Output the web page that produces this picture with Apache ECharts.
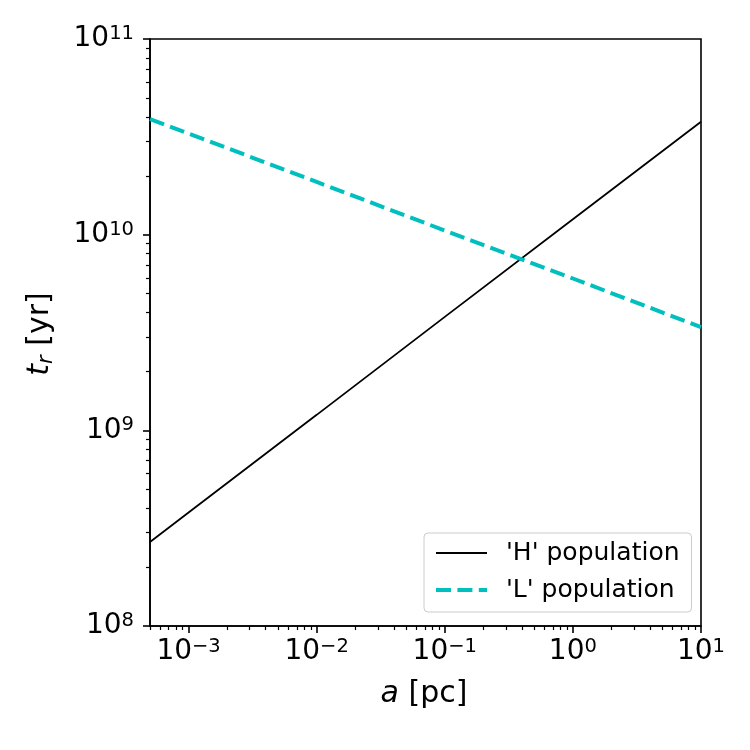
<!DOCTYPE html>
<html>
<head>
<meta charset="utf-8">
<script src="https://cdn.jsdelivr.net/npm/echarts@6/dist/echarts.min.js"></script>
<style>html,body{margin:0;padding:0;background:#fff}#c{width:750px;height:750px}</style>
</head>
<body>
<div id="c"></div>
<script>
// ---- data ----
var aValues = [5e-4, 1e-3, 1e-2, 1e-1, 1, 10];            // a [pc]
var hPopulation = [2.69e8, 3.80e8, 1.20e9, 3.80e9, 1.20e10, 3.78e10];   // 'H' population t_r [yr]
var lPopulation = [3.90e10, 3.29e10, 1.86e10, 1.05e10, 5.97e9, 3.37e9]; // 'L' population t_r [yr]
var seriesNames = ["'H' population", "'L' population"];
var xMajorTicks = [1e-3, 1e-2, 1e-1, 1, 10];
var yMajorTicks = [1e8, 1e9, 1e10, 1e11];
var xRange = [5e-4, 10];
var yRange = [1e8, 1e11];

function minorTicks(lo, hi) {
  var out = [];
  for (var e = Math.floor(Math.log10(lo)); e <= Math.ceil(Math.log10(hi)); e++) {
    for (var m = 2; m <= 9; m++) {
      var v = m * Math.pow(10, e);
      if (v >= lo * 0.999 && v <= hi * 1.001) out.push(v);
    }
  }
  return out;
}
var xMinorTicks = minorTicks(xRange[0], xRange[1]);
var yMinorTicks = minorTicks(yRange[0], yRange[1]);

function pair(xs, ys) { return xs.map(function (x, i) { return [x, ys[i]]; }); }

var FONT = 'DejaVu Sans';
function powLabel(v) {
  var e = Math.round(Math.log10(v));
  var s = e < 0 ? '\u2212' + (-e) : String(e);
  return '{b|10}{s|' + s + '}';
}
var powRich = {
  b: { fontFamily: FONT, fontSize: 28, lineHeight: 30, color: '#000' },
  s: { fontFamily: FONT, fontSize: 19.5, lineHeight: 19, verticalAlign: 'top', color: '#000' }
};
var black = { color: '#000', width: 1.6 };
var hLine = { color: '#000', width: 1.8, type: 'solid' };
var lLine = { color: '#00bfbf', width: 4, type: [15, 6.4] };

var chart = echarts.init(document.getElementById('c'), null, { renderer: 'canvas' });
chart.setOption({
  backgroundColor: '#fff',
  animation: false,
  grid: { left: 150, right: 49, top: 39, bottom: 124, show: true, borderColor: '#000', borderWidth: 1.6, backgroundColor: 'transparent' },
  xAxis: [{
    type: 'log', logBase: 10, min: xRange[0], max: xRange[1], position: 'bottom',
    axisLine: { show: true, lineStyle: black },
    axisTick: { show: true, customValues: xMajorTicks, length: 7, lineStyle: black },
    axisLabel: { customValues: xMajorTicks, formatter: powLabel, rich: powRich, margin: 11 },
    splitLine: { show: false }, minorTick: { show: false }
  }, {
    type: 'log', logBase: 10, min: xRange[0], max: xRange[1], position: 'bottom',
    axisLine: { show: false },
    axisTick: { show: true, customValues: xMinorTicks, length: 4, lineStyle: { color: '#000', width: 1.2 } },
    axisLabel: { show: false }, splitLine: { show: false }
  }],
  yAxis: [{
    type: 'log', logBase: 10, min: yRange[0], max: yRange[1], position: 'left',
    axisLine: { show: true, lineStyle: black },
    axisTick: { show: true, customValues: yMajorTicks, length: 7, lineStyle: black },
    axisLabel: { customValues: yMajorTicks, formatter: powLabel, rich: powRich, margin: 16 },
    splitLine: { show: false }, minorTick: { show: false }
  }, {
    type: 'log', logBase: 10, min: yRange[0], max: yRange[1], position: 'left',
    axisLine: { show: false },
    axisTick: { show: true, customValues: yMinorTicks, length: 4, lineStyle: { color: '#000', width: 1.2 } },
    axisLabel: { show: false }, splitLine: { show: false }
  }],
  legend: {
    orient: 'vertical', left: 424, top: 533,
    padding: [6, 12, 8, 10], itemGap: 9, itemWidth: 51, itemHeight: 14,
    backgroundColor: 'rgba(255,255,255,0.8)', borderColor: '#cccccc', borderWidth: 1, borderRadius: 4,
    itemStyle: { opacity: 0 },
    textStyle: { fontFamily: FONT, fontSize: 25, color: '#000', lineHeight: 28, padding: [0, 0, 0, 14] },
    data: [
      { name: seriesNames[0], lineStyle: hLine },
      { name: seriesNames[1], lineStyle: lLine }
    ]
  },
  series: [{
    name: seriesNames[0], type: 'line', xAxisIndex: 0, yAxisIndex: 0,
    data: pair(aValues, hPopulation), showSymbol: false, symbol: 'none',
    lineStyle: hLine, itemStyle: { color: '#000' }
  }, {
    name: seriesNames[1], type: 'line', xAxisIndex: 0, yAxisIndex: 0,
    data: pair(aValues, lPopulation), showSymbol: false, symbol: 'none',
    lineStyle: lLine, itemStyle: { color: '#00bfbf' }
  }],
  graphic: [{
    type: 'text', x: 424, y: 694,
    style: {
      text: '{i|a}{n| [pc]}', align: 'center', verticalAlign: 'middle',
      rich: {
        i: { fontFamily: FONT, fontStyle: 'italic', fontSize: 30, color: '#000' },
        n: { fontFamily: FONT, fontSize: 30, color: '#000' }
      }
    }
  }, {
    type: 'text', x: 40, y: 334, rotation: Math.PI / 2,
    style: {
      text: '{i|t}{r|r}{n| [yr]}', align: 'center', verticalAlign: 'middle',
      rich: {
        i: { fontFamily: FONT, fontStyle: 'italic', fontSize: 30, lineHeight: 34, color: '#000' },
        r: { fontFamily: FONT, fontStyle: 'italic', fontSize: 21, lineHeight: 21, verticalAlign: 'bottom', color: '#000' },
        n: { fontFamily: FONT, fontSize: 30, lineHeight: 34, color: '#000' }
      }
    }
  }]
});
</script>
</body>
</html>
